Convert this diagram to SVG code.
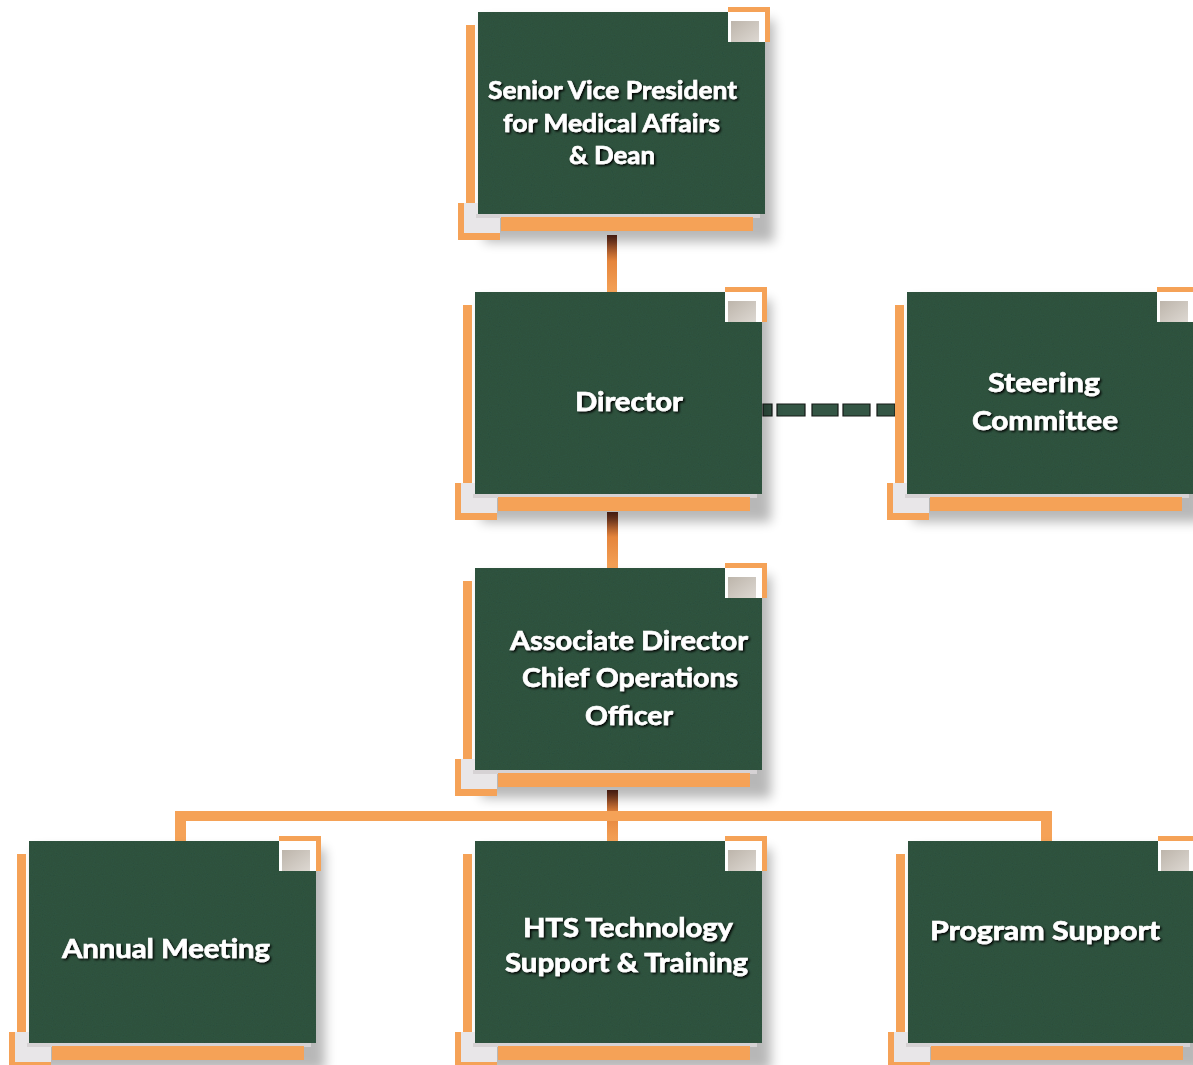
<svg xmlns="http://www.w3.org/2000/svg" xmlns:xlink="http://www.w3.org/1999/xlink" width="1193" height="1065" viewBox="0 0 1193 1065">
<style>
.or{fill:#f5a257}
.grn{fill:#325642}
.lbl{font-family:Lato,"Liberation Sans",sans-serif;font-weight:700;font-size:26px;fill:#ffffff;stroke:#ffffff;stroke-width:0.6;filter:url(#ts)}
.sm{font-size:25px}
.dash{fill:#345645;stroke:#151a17;stroke-width:1.2}
</style>
<defs>
<filter id="blur" x="-20%" y="-20%" width="140%" height="140%"><feGaussianBlur stdDeviation="6"/></filter>
<filter id="ts" x="-10%" y="-30%" width="120%" height="160%"><feDropShadow dx="1.5" dy="1.5" stdDeviation="0.8" flood-color="#000" flood-opacity="1"/></filter>
<filter id="tex" x="0" y="0" width="100%" height="100%">
<feTurbulence type="fractalNoise" baseFrequency="0.9" numOctaves="1" seed="3" result="n"/>
<feColorMatrix in="n" type="matrix" values="0 0 0 0 0  0 0 0 0 0  0 0 0 0 0  0 0 0 0.18 0" result="na"/>
<feComposite in="na" in2="SourceGraphic" operator="in" result="nc"/>
<feMerge><feMergeNode in="SourceGraphic"/><feMergeNode in="nc"/></feMerge>
</filter>
<linearGradient id="vg" x1="0" y1="0" x2="0" y2="1">
<stop offset="0" stop-color="#5a2418"/>
<stop offset="0.45" stop-color="#e5853c"/>
<stop offset="1" stop-color="#f5a257"/>
</linearGradient>
<linearGradient id="gs" x1="0" y1="0" x2="1" y2="1">
<stop offset="0" stop-color="#bdb5ab"/>
<stop offset="1" stop-color="#ddd8d2"/>
</linearGradient>
<g id="frame">
<rect x="6" y="8" width="290" height="222" fill="#000" opacity="0.28" filter="url(#blur)"/>
<rect class="or" x="-12" y="13" width="9" height="178"/>
<rect x="-14" y="191" width="36" height="30" fill="#e8e6e8"/>
<rect class="or" x="-20" y="191" width="6" height="37"/>
<rect class="or" x="-20" y="221" width="42" height="7"/>
<rect class="grn" x="0" y="0" width="287" height="202" filter="url(#tex)"/>
<rect x="-2" y="202" width="284" height="4" fill="#d6d2d4"/>
<rect class="or" x="23" y="205" width="252" height="14"/>
<rect x="250" y="0" width="37" height="30" fill="#ffffff"/>
<rect x="253" y="9" width="28" height="21" fill="url(#gs)"/>
<rect class="or" x="250" y="-5" width="42" height="5"/>
<rect class="or" x="287" y="-5" width="5" height="35"/>
</g>
</defs>
<rect width="1193" height="1065" fill="#ffffff"/>

<g id="connectors">
<rect x="607" y="235" width="10" height="58" fill="url(#vg)"/>
<rect x="607" y="512" width="11" height="56" fill="url(#vg)"/>
<rect x="607" y="790" width="11" height="52" fill="url(#vg)"/>
<rect class="or" x="175" y="811" width="877" height="10"/>
<rect class="or" x="175" y="811" width="11" height="31"/>
<rect class="or" x="1041" y="811" width="11" height="31"/>
<path class="dash" d="M763 404h9v12h-9z M777 404h28v12h-28z M812 404h26v12h-26z M843 404h27v12h-27z M877 404h18v12h-18z"/>
</g>

<g id="node-svp" transform="translate(478,12)">
<use xlink:href="#frame"/>
<text class="lbl sm" x="10" y="87" textLength="249" lengthAdjust="spacingAndGlyphs">Senior Vice President</text>
<text class="lbl sm" x="25" y="120" textLength="217" lengthAdjust="spacingAndGlyphs">for Medical Affairs</text>
<text class="lbl sm" x="91" y="152" textLength="86" lengthAdjust="spacingAndGlyphs">&amp; Dean</text>
</g>

<g id="node-director" transform="translate(475,292)">
<use xlink:href="#frame"/>
<text class="lbl" x="100" y="119" textLength="108" lengthAdjust="spacingAndGlyphs">Director</text>
</g>

<g id="node-steering" transform="translate(907,292)">
<use xlink:href="#frame"/>
<text class="lbl" x="81" y="100" textLength="112" lengthAdjust="spacingAndGlyphs">Steering</text>
<text class="lbl" x="65" y="138" textLength="146" lengthAdjust="spacingAndGlyphs">Committee</text>
</g>

<g id="node-associate" transform="translate(475,568)">
<use xlink:href="#frame"/>
<text class="lbl" x="35" y="82" textLength="238" lengthAdjust="spacingAndGlyphs">Associate Director</text>
<text class="lbl" x="47" y="119" textLength="216" lengthAdjust="spacingAndGlyphs">Chief Operations</text>
<text class="lbl" x="110" y="157" textLength="88" lengthAdjust="spacingAndGlyphs">Officer</text>
</g>

<g id="node-annual" transform="translate(29,841)">
<use xlink:href="#frame"/>
<text class="lbl" x="33" y="117" textLength="208" lengthAdjust="spacingAndGlyphs">Annual Meeting</text>
</g>

<g id="node-hts" transform="translate(475,841)">
<use xlink:href="#frame"/>
<text class="lbl" x="48" y="96" textLength="210" lengthAdjust="spacingAndGlyphs">HTS Technology</text>
<text class="lbl" x="30" y="131" textLength="243" lengthAdjust="spacingAndGlyphs">Support &amp; Training</text>
</g>

<g id="node-program" transform="translate(908,841)">
<use xlink:href="#frame"/>
<text class="lbl" x="22" y="99" textLength="230" lengthAdjust="spacingAndGlyphs">Program Support</text>
</g>
</svg>
